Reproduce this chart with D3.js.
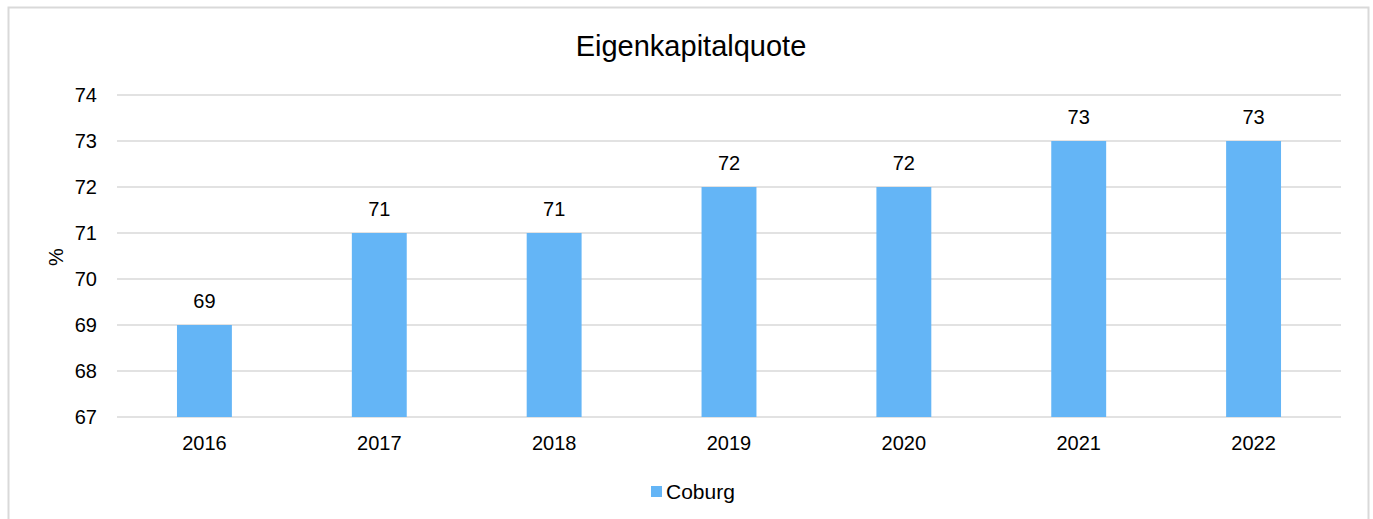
<!DOCTYPE html>
<html lang="de">
  <head>
    <meta charset="UTF-8" />
    <title>Eigenkapitalquote</title>
    <script src="https://cdn.jsdelivr.net/npm/d3@7"></script>
    <style>
      body { margin: 0; background: #fff; }
      svg { display: block; font-family: "Liberation Sans", Arial, sans-serif; }
    </style>
  </head>
  <body>
    <div id="main-div"></div>
    <script>
      // data
      const years = ["2016", "2017", "2018", "2019", "2020", "2021", "2022"];
      const coburg = [69, 71, 71, 72, 72, 73, 73];
      const yTicks = [67, 68, 69, 70, 71, 72, 73, 74];
      const seriesName = "Coburg";
      const chartTitle = "Eigenkapitalquote";

      const width = 1373, height = 519;
      const plot = { left: 117, right: 1341, top: 95, bottom: 417 };

      let svg = d3.select("#main-div").append("svg")
        .attr("width", width).attr("height", height);

      // outer frame
      svg.append("rect")
        .attr("x", 8.5).attr("y", 7.5)
        .attr("width", 1360).attr("height", 530)
        .attr("fill", "#fff")
        .attr("stroke", "#d9d9d9").attr("stroke-width", 2);

      let x = d3.scaleBand().domain(years)
        .range([plot.left, plot.right]).paddingInner(0.686).paddingOuter(0.343);
      let y = d3.scaleLinear().domain([67, 74]).range([plot.bottom, plot.top]);

      // gridlines
      svg.append("g").selectAll("line").data(yTicks).join("line")
        .attr("x1", plot.left).attr("x2", plot.right)
        .attr("y1", d => y(d)).attr("y2", d => y(d))
        .attr("stroke", "#d9d9d9").attr("stroke-width", 1.5);

      // y axis labels
      let yAxis = svg.append("g")
        .attr("transform", "translate(" + (plot.left - 20) + ",0)")
        .call(d3.axisLeft(y).tickValues(yTicks).tickSize(0).tickPadding(0).tickFormat(d3.format("d")));
      yAxis.select(".domain").remove();
      yAxis.selectAll("text").attr("font-size", 20).attr("fill", "#000")
        .attr("font-family", "Liberation Sans, Arial, sans-serif");

      // bars
      svg.append("g").selectAll("rect").data(coburg).join("rect")
        .attr("x", (d, i) => x(years[i]))
        .attr("width", x.bandwidth())
        .attr("y", d => y(d))
        .attr("height", d => y(67) - y(d))
        .attr("fill", "#64b5f6");

      // value labels
      svg.append("g").selectAll("text").data(coburg).join("text")
        .attr("x", (d, i) => x(years[i]) + x.bandwidth() / 2)
        .attr("y", d => y(d) - 17)
        .attr("text-anchor", "middle")
        .attr("font-size", 20).attr("fill", "#000")
        .text(d => d);

      // x axis labels
      let xAxis = svg.append("g")
        .attr("transform", "translate(0," + plot.bottom + ")")
        .call(d3.axisBottom(x).tickSize(0).tickPadding(19));
      xAxis.select(".domain").remove();
      xAxis.selectAll("text").attr("font-size", 20).attr("fill", "#000")
        .attr("font-family", "Liberation Sans, Arial, sans-serif");

      // title
      svg.append("text")
        .attr("x", 691).attr("y", 56)
        .attr("text-anchor", "middle")
        .attr("font-size", 29).attr("fill", "#000")
        .text(chartTitle);

      // y axis title
      svg.append("text")
        .attr("transform", "translate(63,257) rotate(-90)")
        .attr("text-anchor", "middle")
        .attr("font-size", 20).attr("fill", "#000")
        .text("%");

      // legend
      let legend = svg.append("g").attr("transform", "translate(651,486)");
      legend.append("rect").attr("width", 11).attr("height", 11).attr("fill", "#64b5f6");
      legend.append("text").attr("x", 15).attr("y", 13)
        .attr("font-size", 21).attr("fill", "#000").text(seriesName);
    </script>
  </body>
</html>
